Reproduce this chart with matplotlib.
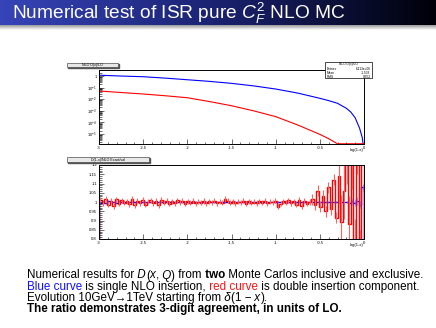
import matplotlib.pyplot as plt
import numpy as np
from matplotlib.colors import LinearSegmentedColormap
from matplotlib.patches import Rectangle
from matplotlib.ticker import FixedLocator, MultipleLocator

plt.rcParams['font.family'] = ['Liberation Sans', 'DejaVu Sans']
plt.rcParams['mathtext.fontset'] = 'custom'
plt.rcParams['mathtext.rm'] = 'Liberation Sans'
plt.rcParams['mathtext.it'] = 'Liberation Sans:italic'
plt.rcParams['mathtext.bf'] = 'Liberation Sans:bold'

W, H = 436, 328

# -------------------------
# DATA
# -------------------------
TITLE = r"Numerical test of ISR pure $C_F^2$ NLO MC"

# upper pad: log10 of distribution vs log10(1-x)
top_x = [-3.0, -2.75, -2.5, -2.25, -2.0, -1.75, -1.5, -1.25, -1.0, -0.75,
         -0.5, -0.4, -0.3, -0.2, -0.15, -0.1, -0.05, -0.02, -0.01, 0.0]
blue_log = [0.07, 0.0, -0.06, -0.18, -0.32, -0.46, -0.63, -0.85, -1.12, -1.47,
            -1.92, -2.12, -2.35, -2.78, -3.1, -3.6, -4.5, -5.3, -5.86, -5.86]
red_log = [-1.29, -1.42, -1.55, -1.7, -1.87, -2.2, -2.56, -3.0, -3.5, -4.22,
           -5.03, -5.4, -5.84, -5.84, -5.84, -5.84, -5.84, -5.84, -5.84, -5.84]

# lower pad: ratio, 100 bins in log10(1-x) from -3 to 0
red_ratio = [
    1.012, 0.992, 1.018, 0.985, 1.006, 0.978, 1.015, 0.990, 1.010, 0.996,
    1.004, 0.988, 1.016, 0.982, 1.008, 0.994, 1.012, 0.986, 1.002, 1.010,
    0.992, 1.006, 0.984, 1.012, 0.996, 1.008, 0.990, 1.003, 0.994, 1.010,
    0.998, 1.006, 0.990, 1.004, 0.996, 1.008, 0.992, 1.002, 0.997, 1.005,
    0.994, 1.003, 0.998, 1.006, 0.992, 1.002, 0.996, 1.018, 1.008, 0.996,
    1.004, 0.994, 1.002, 0.998, 1.006, 0.990, 1.003, 0.997, 1.002, 0.995,
    1.004, 0.997, 1.008, 0.994, 1.002, 0.998, 1.006, 0.975, 0.990, 1.004,
    0.996, 1.010, 0.992, 1.004, 0.985, 1.012, 0.978, 1.006, 0.990, 1.000,
    1.015, 0.985, 1.060, 0.975, 1.035, 0.950, 1.080, 0.960, 1.120, 0.915,
    1.140, 0.890, 1.060, 1.250, 0.880, 1.220, 0.760, 1.300, 0.700, 1.350,
]
blue_ratio = [
    0.996, 1.004, 0.992, 1.006, 0.998, 1.002, 0.997, 1.003, 1.000, 0.998,
    1.002, 0.999, 1.003, 0.998, 1.001, 1.000, 0.998, 1.002, 1.000, 0.999,
    1.001, 0.999, 1.002, 1.000, 0.998, 1.001, 1.000, 0.999, 1.002, 1.000,
    0.999, 1.001, 1.000, 0.999, 1.001, 1.000, 1.000, 0.999, 1.001, 1.000,
    1.000, 0.999, 1.001, 1.000, 0.999, 1.000, 1.001, 1.000, 0.999, 1.000,
    1.001, 1.000, 0.999, 1.000, 1.001, 1.000, 1.000, 0.999, 1.001, 1.000,
    1.000, 1.001, 0.999, 1.000, 1.000, 1.001, 0.999, 1.000, 1.000, 1.001,
    0.999, 1.000, 1.001, 1.000, 0.999, 1.000, 1.001, 0.999, 1.000, 1.001,
    0.999, 1.000, 0.998, 1.002, 0.999, 1.001, 0.998, 1.001, 0.999, 1.002,
    0.998, 1.001, 0.999, 1.002, 0.997, 1.003, 0.996, 1.005, 0.985, 1.080,
]
red_err_seg = [0.014, 0.03, 0.15]      # error bar half-size per region
red_err_len = [80, 10, 10]
blue_err_seg = [0.003, 0.006, 0.02]
blue_err_len = [80, 15, 5]

# caption pieces (text, colour, weight, style); spaces kept at piece starts
N, B, I = "normal", "bold", "italic"
text_lines = [
    [("Numerical results for", "black", N, N), (" D", "black", N, I), ("(", "black", N, N),
     ("x", "black", N, I), (",", "black", N, N), (" Q", "black", N, I), (")", "black", N, N),
     (" from", "black", N, N), (" two", "black", B, N),
     (" Monte Carlos inclusive and exclusive.", "black", N, N)],
    [("Blue curve", "#1010ff", N, N), (" is single NLO insertion,", "black", N, N),
     (" red curve", "#ff1010", N, N), (" is double insertion component.", "black", N, N)],
    [("Evolution 10GeV\u21921TeV starting from", "black", N, N), (" \u03b4", "black", N, I),
     ("(1 \u2212", "black", N, N), (" x", "black", N, I), (").", "black", N, N)],
    [("The ratio demonstrates 3-digit agreement, in units of LO.", "black", B, N)],
]
line_y = [278.5, 289.7, 300.9, 312.1]
CAPTION_WIDTH = 401   # px, width of the first caption line
TITLE_WIDTH = 333     # px, width of the slide title


def fx(px):
    return px / W


def fy(py):
    return 1 - py / H


def root_style(ax):
    for s in ax.spines.values():
        s.set_linewidth(0.7)
    ax.tick_params(which='both', direction='in', labelsize=3, pad=1.5, width=0.4)
    ax.tick_params(which='major', length=3.5)
    ax.tick_params(which='minor', length=1.8)
    ax.xaxis.set_major_locator(FixedLocator([-3, -2.5, -2, -1.5, -1, -0.5, 0]))
    ax.xaxis.set_minor_locator(MultipleLocator(0.1))
    ax.set_xticklabels(["-3", "-2.5", "-2", "-1.5", "-1", "-0.5", "0"])
    ax.set_xlim(-3, 0)


def title_box(x0, y0, x1, y1, label):
    fig.patches.append(Rectangle((fx(x0 + 1), fy(y1 + 1)), fx(x1 - x0), (y1 - y0) / H,
                                 transform=fig.transFigure, color="#555555", zorder=5))
    fig.patches.append(Rectangle((fx(x0), fy(y1)), fx(x1 - x0), (y1 - y0) / H,
                                 transform=fig.transFigure, facecolor="#e8e8e8",
                                 edgecolor="#333333", lw=0.4, zorder=6))
    fig.text(fx((x0 + x1) / 2), fy((y0 + y1) / 2), label, fontsize=2.6,
             ha='center', va='center', zorder=7)


def put_line(pieces, yy, size):
    # lay the pieces side by side, returns the line width in px
    x = fx(27)
    texts = []
    for s, c, w, st in pieces:
        t = fig.text(x, fy(yy), s, color=c, weight=w, style=st, fontsize=size, va='baseline')
        x += t.get_window_extent(renderer=rend).width / fig.bbox.width
        texts.append(t)
    return x * W - 27, texts


fig = plt.figure(figsize=(W / 100, H / 100), dpi=100)
fig.canvas.draw()
rend = fig.canvas.get_renderer()

# title bar
grad = np.linspace(0, 1, 256).reshape(1, -1)
cmap = LinearSegmentedColormap.from_list("bar", ["#3644b8", "#1a2270", "#000008"])
ax_bar = fig.add_axes([0, fy(25), 1, 25 / H])
ax_bar.imshow(grad, aspect='auto', cmap=cmap, extent=(0, 1, 0, 1))
ax_bar.axis('off')
ax_sh = fig.add_axes([0, fy(30), 1, 5 / H])
ax_sh.imshow(np.linspace(0, 1, 64).reshape(-1, 1), aspect='auto',
             cmap=LinearSegmentedColormap.from_list("sh", ["#9a9a9a", "#ffffff"]),
             extent=(0, 1, 0, 1))
ax_sh.axis('off')
title = fig.text(fx(12), fy(13), TITLE, color='white', fontsize=12, va='center')
tw = title.get_window_extent(renderer=rend).width
title.set_fontsize(min(14, 12 * TITLE_WIDTH / tw))

# upper pad
ax1 = fig.add_axes([fx(99), fy(144), fx(265), 74 / H])
ax1.set_yscale('log')
ax1.plot(top_x, 10 ** np.array(blue_log), color='blue', lw=0.8)
ax1.plot(top_x, 10 ** np.array(red_log), color='red', lw=0.8)
ax1.set_ylim(10 ** -5.86, 10 ** 0.52)
root_style(ax1)
ax1.yaxis.set_major_locator(FixedLocator([1e-5, 1e-4, 1e-3, 1e-2, 1e-1, 1]))
ax1.set_yticklabels([r"$10^{-5}$", r"$10^{-4}$", r"$10^{-3}$", r"$10^{-2}$",
                     r"$10^{-1}$", "1"])
fig.text(fx(364), fy(150), "log(1-x)", fontsize=3, ha='right', va='center')
title_box(67, 63, 118, 67, "NLO D(x)/LO")

# stats box
fig.patches.append(Rectangle((fx(325), fy(78)), fx(47), 16 / H, transform=fig.transFigure,
                             facecolor='white', edgecolor='black', lw=0.5, zorder=8))
fig.text(fx(348.5), fy(64.5), "NLO D(x)/LO", fontsize=2.3, ha='center', va='center', zorder=9)
for i, (k, v) in enumerate([("Entries", "6.113e+06"), ("Mean", "-1.533"), ("RMS", "0.552")]):
    fig.text(fx(327), fy(69 + i * 3.8), k, fontsize=2.3, va='center', zorder=9)
    fig.text(fx(370.5), fy(69 + i * 3.8), v, fontsize=2.3, ha='right', va='center', zorder=9)

# lower pad
edges = np.linspace(-3, 0, len(red_ratio) + 1)
centers = 0.5 * (edges[:-1] + edges[1:])
red_err = np.repeat(red_err_seg, red_err_len)
blue_err = np.repeat(blue_err_seg, blue_err_len)
ax2 = fig.add_axes([fx(99), fy(239), fx(265), 74 / H])
ax2.vlines(centers, np.array(blue_ratio) - blue_err, np.array(blue_ratio) + blue_err,
           color='#7070ff', lw=0.5)
ax2.stairs(blue_ratio, edges, color='blue', lw=1.0)
ax2.vlines(centers, np.array(red_ratio) - red_err, np.array(red_ratio) + red_err,
           color='#ff6060', lw=0.8)
ax2.stairs(red_ratio, edges, color='red', lw=1.0)
ax2.set_ylim(0.8, 1.2)
root_style(ax2)
ax2.yaxis.set_minor_locator(MultipleLocator(0.01))
ax2.set_yticks(np.arange(0.8, 1.2001, 0.05))
ax2.set_yticklabels(["0.8", "0.85", "0.9", "0.95", "1", "1.05", "1.1", "1.15", "1.2"])
fig.text(fx(364), fy(245), "log(1-x)", fontsize=3, ha='right', va='center')
title_box(67, 157, 149, 162, "D(1-x)/NLO Exact/val")

# caption: size it so the first line spans the same width as on the slide
size0 = 8.0
w0, probe = put_line(text_lines[0], line_y[0], size0)
for t in probe:
    t.remove()
cap_size = min(8.4, size0 * CAPTION_WIDTH / w0)
for pieces, yy in zip(text_lines, line_y):
    put_line(pieces, yy, cap_size)

fig.savefig("out.png", dpi=100)
